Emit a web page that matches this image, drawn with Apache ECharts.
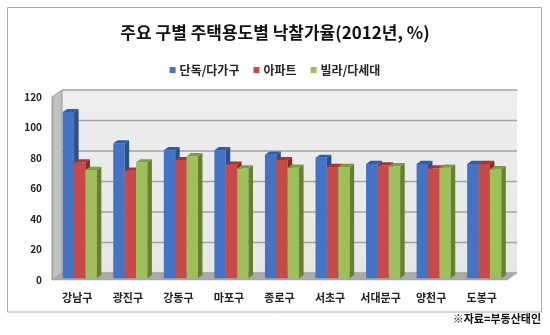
<!DOCTYPE html>
<html><head><meta charset="utf-8">
<script src="https://cdn.jsdelivr.net/npm/echarts@6/dist/echarts.min.js"></script>
<style>html,body{margin:0;padding:0;background:#fff}#c{width:550px;height:335px}</style>
</head><body><div id="c"></div>
<script>
const categories = ['강남구','광진구','강동구','마포구','종로구','서초구','서대문구','양천구','도봉구'];
const seriesNames = ['단독/다가구','아파트','빌라/다세대'];
const detached = [109, 88.5, 84, 84, 81, 79, 75, 75, 75];
const apartment = [76, 70.5, 77.5, 74.5, 77.5, 73, 74, 72, 75];
const villa = [71, 76, 80, 72, 72.5, 73, 73.5, 72.5, 71.5];
const yTicks = [0, 20, 40, 60, 80, 100, 120];
const titleText = '주요 구별 주택용도별 낙찰가율(2012년, %)';
const sourceText = '※자료=부동산태인';

const FONT = "'Noto Sans CJK KR','Noto Sans',sans-serif";
const DEPTH = [10, -7];
const palettes = [
  {front:'#4273c5', side:'#28508f', top:'#2f5ea6'},
  {front:'#c84a48', side:'#8a2826', top:'#a33533'},
  {front:'#9dc05a', side:'#667f30', top:'#7f9d3e'}
];
const values = [detached, apartment, villa];

function barRender(k){
  return function(params, api){
    const i = api.value(0), v = api.value(1);
    const band = api.size([1, 0])[0];
    const c = api.coord([i, v]);
    const b = api.coord([i, 0]);
    const bw = band * 0.225;
    const offX = DEPTH[0] * 0.25, offY = DEPTH[1] * 0.25;
    const dX = DEPTH[0] * 0.45, dY = DEPTH[1] * 0.45;
    const x0 = c[0] + offX - 1.5 * bw + k * bw;
    const x1 = x0 + bw;
    const yT = c[1] + offY, yB = b[1] + offY;
    const p = palettes[k];
    return {type:'group', children:[
      {type:'rect', shape:{x:x0, y:yT, width:bw, height:yB - yT},
        style:{fill:new echarts.graphic.LinearGradient(0,0,1,0,[{offset:0,color:p.front},{offset:0.5,color:p.front},{offset:1,color:p.front}])}},
      {type:'polygon', shape:{points:[[x1,yT],[x1+dX,yT+dY],[x1+dX,yB+dY],[x1,yB]]}, style:{fill:p.side}},
      {type:'polygon', shape:{points:[[x0,yT],[x1,yT],[x1+dX,yT+dY],[x0+dX,yT+dY]]}, style:{fill:p.top}}
    ]};
  };
}

function frameRender(params, api){
  const cs = params.coordSys;
  const L = cs.x, R = cs.x + cs.width, T = cs.y, B = cs.y + cs.height;
  const dx = DEPTH[0], dy = DEPTH[1];
  const children = [];
  children.push({type:'rect', shape:{x:L+dx, y:T+dy, width:cs.width, height:cs.height},
    style:{fill:new echarts.graphic.LinearGradient(0,0,0,1,[{offset:0,color:'#eeeeee'},{offset:1,color:'#e6e6e6'}])}});
  yTicks.forEach(function(v){
    const y = api.coord([0, v])[1] + dy;
    children.push({type:'line', shape:{x1:L+dx, y1:y, x2:R+dx, y2:y}, style:{stroke:'#a3a3a3', lineWidth:1.5}});
  });
  children.push({type:'polygon', shape:{points:[[L,T],[L+dx,T+dy],[L+dx,B+dy],[L,B]]},
    style:{fill:new echarts.graphic.LinearGradient(0,0,1,0,[{offset:0,color:'#a9a9a9'},{offset:0.3,color:'#c4c4c4'},{offset:1,color:'#bdbdbd'}]), stroke:'#9a9a9a', lineWidth:1}});
  children.push({type:'polygon', shape:{points:[[L,B],[R,B],[R+dx,B+dy],[L+dx,B+dy]]},
    style:{fill:'#a9a9a9', stroke:'#9c9c9c', lineWidth:0.5}});
  return {type:'group', children:children};
}

const barSeries = seriesNames.map(function(name, k){
  return {
    name: name, type:'custom', z: 3,
    itemStyle:{color: palettes[k].front},
    encode:{x:0, y:1},
    data: values[k].map(function(v, i){ return [i, v]; }),
    renderItem: barRender(k)
  };
});

const chart = echarts.init(document.getElementById('c'), null, {renderer:'canvas'});
chart.setOption({
  backgroundColor:'#ffffff',
  animation:false,
  title:{text:titleText, left:'center', top:24, padding:0,
    textStyle:{fontFamily:FONT, fontSize:17, fontWeight:'bold', color:'#111'}},
  legend:{data:seriesNames, left:'center', top:59, icon:'rect', itemWidth:6, itemHeight:6, itemGap:14,
    textStyle:{fontFamily:FONT, fontSize:12, fontWeight:'bold', color:'#222', padding:[0,0,0,-1]}},
  grid:{left:52, right:43, top:97, bottom:55, containLabel:false, outerBoundsMode:'none'},
  xAxis:{type:'category', data:categories,
    axisLine:{show:false}, axisTick:{show:false}, splitLine:{show:false},
    axisLabel:{margin:12, fontFamily:FONT, fontSize:11, fontWeight:'bold', color:'#222', interval:0}},
  yAxis:{type:'value', min:0, max:120, interval:20,
    axisLine:{show:false}, axisTick:{show:false}, splitLine:{show:false},
    axisLabel:{margin:10, fontFamily:FONT, fontSize:10, fontWeight:'bold', color:'#222'}},
  graphic:[
    {type:'rect', shape:{x:7.5, y:7.5, width:534, height:304.5}, style:{fill:'none', stroke:'#a8a8a8', lineWidth:1}, z:-10},
    {type:'text', right:9, top:313, style:{text:sourceText, font:"bold 11px 'Noto Sans CJK KR',sans-serif", fill:'#111'}}
  ],
  series:[{
    type:'custom', name:'frame', z:1, silent:true,
    encode:{x:0, y:1}, data:[[0, 0]], renderItem:frameRender
  }].concat(barSeries)
});
</script></body></html>
